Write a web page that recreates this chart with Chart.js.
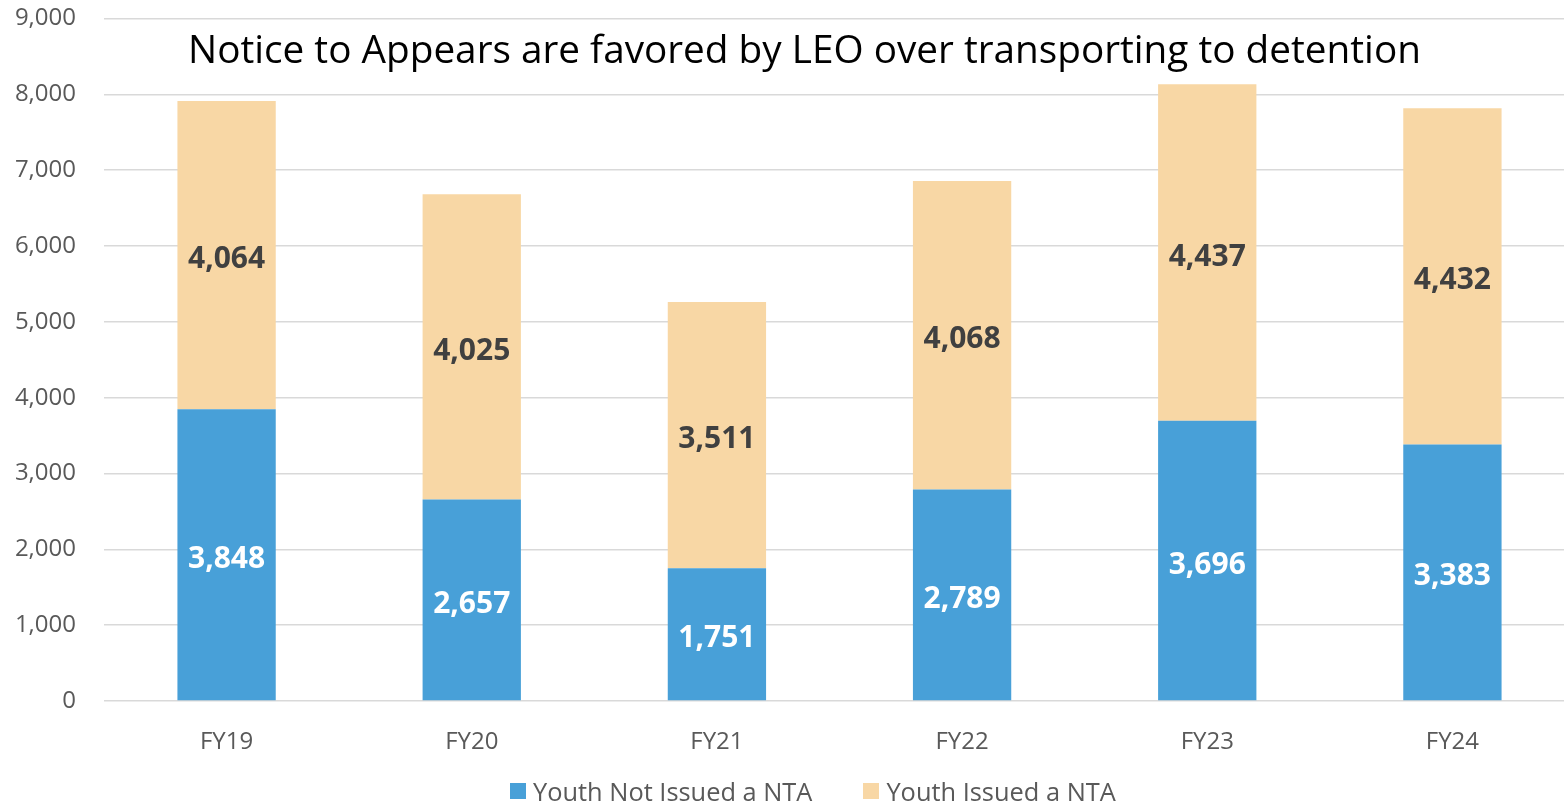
<!DOCTYPE html>
<html>
<head>
<meta charset="utf-8">
<script src="https://cdn.jsdelivr.net/npm/chart.js@4.4.1/dist/chart.umd.min.js"></script>
<style>
  html, body { margin: 0; padding: 0; background: #fff; overflow: hidden; }
  #wrap { position: relative; width: 1564px; height: 807px; overflow: hidden; }
  #c { position: absolute; left: 0; top: 0; }
  #legend { position: absolute; left: 510px; top: 774px; display: flex; font-family: "Open Sans", sans-serif; font-size: 25.4px; color: #595959; white-space: nowrap; }
  .item { display: flex; align-items: center; margin-right: 51px; }
  .box { width: 16px; height: 16px; margin-right: 7px; }
</style>
</head>
<body>
<div id="wrap">
  <canvas id="c" width="1575" height="807"></canvas>
  <div id="legend"></div>
</div>
<script>
const categories = ["FY19", "FY20", "FY21", "FY22", "FY23", "FY24"];
const notIssued = [3848, 2657, 1751, 2789, 3696, 3383];
const issued = [4064, 4025, 3511, 4068, 4437, 4432];
const seriesNames = ["Youth Not Issued a NTA", "Youth Issued a NTA"];
const seriesColors = ["#48A0D8", "#F8D7A5"];
const labelColors = ["#FFFFFF", "#404040"];
const yTicks = [0, 1000, 2000, 3000, 4000, 5000, 6000, 7000, 8000, 9000];
const titleText = "Notice to Appears are favored by LEO over transporting to detention";

const FONT = '"Open Sans", sans-serif';

const titlePlugin = {
  id: 'titleText',
  afterDraw(chart) {
    const ctx = chart.ctx;
    ctx.save();
    let size = 36;
    ctx.font = size + 'px ' + FONT;
    const w = ctx.measureText(titleText).width;
    size = size * (1233 / w);
    ctx.font = size + 'px ' + FONT;
    ctx.fillStyle = '#000000';
    ctx.textAlign = 'left';
    ctx.textBaseline = 'alphabetic';
    ctx.fillText(titleText, 188, 63);
    ctx.restore();
  }
};

const labelPlugin = {
  id: 'barLabels',
  afterDatasetsDraw(chart) {
    const ctx = chart.ctx;
    ctx.save();
    ctx.font = 'bold 30px ' + FONT;
    ctx.textAlign = 'center';
    ctx.textBaseline = 'middle';
    chart.data.datasets.forEach((ds, di) => {
      const meta = chart.getDatasetMeta(di);
      meta.data.forEach((bar, i) => {
        const p = bar.getProps(['x', 'y', 'base'], true);
        ctx.fillStyle = labelColors[di];
        ctx.fillText(ds.data[i].toLocaleString('en-US'), p.x, (p.y + p.base) / 2 + 4.5);
      });
    });
    ctx.restore();
  }
};

new Chart(document.getElementById('c'), {
  type: 'bar',
  data: {
    labels: categories,
    datasets: [
      { label: seriesNames[0], data: notIssued, backgroundColor: seriesColors[0], categoryPercentage: 1, barPercentage: 0.401 },
      { label: seriesNames[1], data: issued, backgroundColor: seriesColors[1], categoryPercentage: 1, barPercentage: 0.401 }
    ]
  },
  options: {
    responsive: false,
    animation: false,
    layout: { padding: { top: 18.5, right: 0, bottom: 0, left: 0 } },
    plugins: { legend: { display: false }, tooltip: { enabled: false } },
    scales: {
      x: {
        stacked: true,
        grid: { display: false },
        border: { display: false },
        ticks: { color: '#595959', font: { family: FONT, size: 24 }, padding: 19 },
        afterFit(s) { s.height = 106; s.paddingLeft = 0; s.paddingRight = 0; }
      },
      y: {
        stacked: true,
        min: 0, max: 9000,
        afterBuildTicks(s) { s.ticks = yTicks.map(v => ({ value: v })); },
        grid: { color: '#D9D9D9', lineWidth: 1.5, drawTicks: false },
        border: { display: false },
        ticks: { color: '#595959', font: { family: FONT, size: 24 }, padding: 28,
                 callback: v => Number(v).toLocaleString('en-US') },
        afterFit(s) { s.width = 104; s.paddingTop = 0; s.paddingBottom = 0; }
      }
    }
  },
  plugins: [titlePlugin, labelPlugin]
});

const lg = document.getElementById('legend');
seriesNames.forEach((n, i) => {
  const it = document.createElement('div'); it.className = 'item';
  const b = document.createElement('div'); b.className = 'box'; b.style.background = seriesColors[i];
  const t = document.createElement('span'); t.textContent = n;
  it.appendChild(b); it.appendChild(t); lg.appendChild(it);
});
</script>
</body>
</html>
